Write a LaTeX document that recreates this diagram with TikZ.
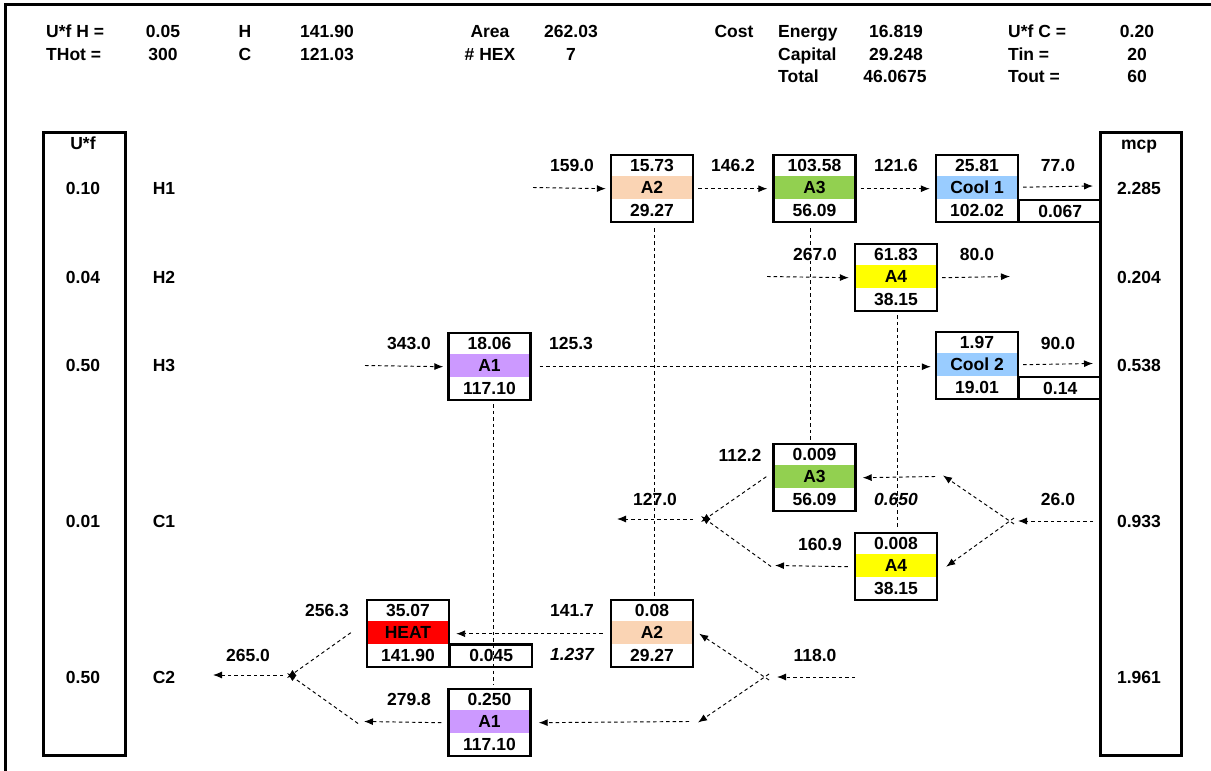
\documentclass[tikz,border=0pt]{standalone}
\usepackage{fontspec}
\setmainfont{Liberation Sans}
\usetikzlibrary{arrows.meta}
\definecolor{peach}{HTML}{FAD4B4}
\definecolor{lgreen}{HTML}{92D050}
\definecolor{lyellow}{HTML}{FFFF00}
\definecolor{lav}{HTML}{CC99FF}
\definecolor{lblue}{HTML}{99CCFF}
\definecolor{hred}{HTML}{FF0000}
\tikzset{
  lbl/.style={inner sep=0pt, text height=12.5pt, text depth=0pt},
  lblw/.style={lbl, anchor=west},
  boxst/.style={draw, line width=2.4pt, minimum width=82pt, inner sep=0pt},
  sidebox/.style={draw, line width=2.6pt, minimum width=82pt, minimum height=623pt, inner sep=0pt, anchor=north west},
  flow/.style={draw=black, line width=0.95pt, dash pattern=on 3.5pt off 3pt, -{Latex[length=9pt,width=7pt]}},
  match/.style={draw=black, line width=0.95pt, dash pattern=on 3.5pt off 3pt},
}
% #1 name, #2 center x, #3 top y, #4 top text, #5 label, #6 bottom text, #7 colour
\newcommand{\hexbox}[7]{%
  \fill[#7] ({#2-41},{#3+22.3}) rectangle ({#2+41},{#3+44.6});
  \node[boxst, minimum height=67pt, anchor=north] (#1) at (#2,#3) {};
  \node[lbl] (#1-t) at (#2,{#3+11.3}) {#4};
  \node[lbl] (#1-m) at (#2,{#3+33.5}) {#5};
  \node[lbl] (#1-b) at (#2,{#3+55.8}) {#6};
}
\begin{document}
\begin{tikzpicture}[x=1pt,y=-1pt,font=\fontsize{17.5pt}{21pt}\selectfont\bfseries]
\useasboundingbox (0,0) rectangle (1211,771);
\fill[white] (0,0) rectangle (1211,771);
% outer frame (left and top edges)
\draw[line width=3pt] (5,771) -- (5,4) -- (1213,4);

% header
\node[lblw] (h1) at (46,31) {U*f H =};
\node[lblw] (h2) at (46,54) {THot =};
\node[lbl] (h3) at (163,31) {0.05};
\node[lbl] (h4) at (163,54) {300};
\node[lbl] (h5) at (245,31) {H};
\node[lbl] (h6) at (245,54) {C};
\node[lbl] (h7) at (327,31) {141.90};
\node[lbl] (h8) at (327,54) {121.03};
\node[lbl] (h9) at (490,31) {Area};
\node[lbl] (h10) at (490,54) {\# HEX};
\node[lbl] (h11) at (571,31) {262.03};
\node[lbl] (h12) at (571,54) {7};
\node[lbl] (h13) at (734,31) {Cost};
\node[lblw] (h14) at (778,31) {Energy};
\node[lblw] (h15) at (778,54) {Capital};
\node[lblw] (h16) at (778,76) {Total};
\node[lbl] (h17) at (896,31) {16.819};
\node[lbl] (h18) at (896,54) {29.248};
\node[lbl] (h19) at (895,76) {46.0675};
\node[lblw] (h20) at (1008,31) {U*f C =};
\node[lblw] (h21) at (1008,54) {Tin =};
\node[lblw] (h22) at (1008,76) {Tout =};
\node[lbl] (h23) at (1137,31) {0.20};
\node[lbl] (h24) at (1137,54) {20};
\node[lbl] (h25) at (1137,76) {60};

% side boxes
\node[sidebox] (ufbox) at (42,131) {};
\node[lbl] (uf) at (83,143) {U*f};
\node[lbl] (uf1) at (83,188) {0.10};
\node[lbl] (uf2) at (83,277) {0.04};
\node[lbl] (uf3) at (83,365) {0.50};
\node[lbl] (uf4) at (83,521) {0.01};
\node[lbl] (uf5) at (83,677) {0.50};
\node[lbl] (sH1) at (164,188) {H1};
\node[lbl] (sH2) at (164,277) {H2};
\node[lbl] (sH3) at (164,365) {H3};
\node[lbl] (sC1) at (164,521) {C1};
\node[lbl] (sC2) at (164,677) {C2};

\node[sidebox, minimum width=81pt] (mcpbox) at (1099,131) {};
\node[lbl] (mcp) at (1139,143) {mcp};
\node[lbl] (m1) at (1139,188) {2.285};
\node[lbl] (m2) at (1139,277) {0.204};
\node[lbl] (m3) at (1139,365) {0.538};
\node[lbl] (m4) at (1139,521) {0.933};
\node[lbl] (m5) at (1139,677) {1.961};

% exchangers
\hexbox{a2t}{652}{154}{15.73}{A2}{29.27}{peach}
\hexbox{a3t}{814.5}{154}{103.58}{A3}{56.09}{lgreen}
\hexbox{cool1}{977}{154}{25.81}{Cool 1}{102.02}{lblue}
\hexbox{a4t}{896}{243}{61.83}{A4}{38.15}{lyellow}
\hexbox{a1t}{489.5}{332}{18.06}{A1}{117.10}{lav}
\hexbox{cool2}{977}{331}{1.97}{Cool 2}{19.01}{lblue}
\hexbox{a3b}{814.5}{443}{0.009}{A3}{56.09}{lgreen}
\hexbox{a4b}{896}{532}{0.008}{A4}{38.15}{lyellow}
\hexbox{heat}{408}{599}{35.07}{HEAT}{141.90}{hred}
\hexbox{a2b}{652}{599}{0.08}{A2}{29.27}{peach}
\hexbox{a1b}{489.5}{688}{0.250}{A1}{117.10}{lav}

\node[boxst, minimum height=22.3pt, anchor=north west] (c1x) at (1018,198.7) {};
\node[lbl] (c1xt) at (c1x.center) {0.067};
\node[boxst, minimum height=22.3pt, anchor=north west] (c2x) at (1018,375.7) {};
\node[lbl] (c2xt) at (c2x.center) {0.14};
\node[boxst, minimum height=22.3pt, anchor=north west] (hx) at (449,643.3) {};
\node[lbl] (hxt) at (hx.center) {0.045};

% match lines
\draw[match] ([xshift=2pt,yshift=-5pt]a2t.south) -- ([xshift=2pt,yshift=3pt]a2b.north);
\draw[match] ([xshift=-4pt,yshift=-5pt]a3t.south) -- ([xshift=-4pt,yshift=3pt]a3b.north);
\draw[match] ([xshift=1pt,yshift=-3pt]a4t.south) -- ([xshift=1pt,yshift=3pt]a4b.north);
\draw[match] ([xshift=3.5pt,yshift=-3pt]a1t.south) -- ([xshift=3.5pt,yshift=3pt]a1b.north);

% H1
\coordinate (h1in) at (533,187.5);
\coordinate (h1out) at (1093,186);
\draw[flow] (h1in) -- ([xshift=-4pt]a2t.west);
\draw[flow] ([xshift=4pt]a2t.east) -- ([xshift=-5pt]a3t.west);
\draw[flow] ([xshift=4pt]a3t.east) -- ([xshift=-5pt]cool1.west);
\draw[flow] ([xshift=4pt,yshift=1.5pt]cool1.east) -- (h1out);
\node[lbl] (l1) at (572,165) {159.0};
\node[lbl] (l2) at (733,165) {146.2};
\node[lbl] (l3) at (896,165) {121.6};
\node[lbl] (l4) at (1058,165) {77.0};

% H2
\coordinate (h2in) at (767,276.5);
\coordinate (h2out) at (1010,276.5);
\draw[flow] (h2in) -- ([xshift=-5pt]a4t.west);
\draw[flow] ([xshift=4pt]a4t.east) -- (h2out);
\node[lbl] (l5) at (815,254) {267.0};
\node[lbl] (l6) at (977,254) {80.0};

% H3
\coordinate (h3in) at (365,365.5);
\coordinate (h3out) at (1093,363.5);
\draw[flow] (h3in) -- ([xshift=-4pt]a1t.west);
\draw[flow] ([xshift=8pt]a1t.east) -- ([xshift=-4pt]a1t.east -| cool2.west);
\draw[flow] ([xshift=4pt,yshift=1pt]cool2.east) -- (h3out);
\node[lbl] (l7) at (409,343) {343.0};
\node[lbl] (l8) at (571,343) {125.3};
\node[lbl] (l9) at (1058,343) {90.0};

% C1
\coordinate (c1in) at (1093,521);
\coordinate (c1split) at (1018,521);
\coordinate (c1up) at (940,476.5);
\coordinate (c1mix) at (697,519);
\coordinate (c1lo) at (775,565.5);
\coordinate (c1out) at (617,519);
\draw[flow] (c1in) -- (c1split);
\draw[flow] ([xshift=-4pt,yshift=-3pt]c1split) -- ([xshift=3pt,yshift=1pt]c1up);
\draw[flow] ([xshift=-5pt]c1up) -- ([xshift=6pt]a3b.east);
\draw[flow] ([xshift=-4pt,yshift=3pt]c1split) -- ([xshift=8pt]a4b.east);
\draw[flow] ([xshift=-6pt,yshift=1pt]a3b.west) -- ([xshift=4pt,yshift=-3pt]c1mix);
\draw[flow] ([xshift=-6pt]a4b.west) -- (c1lo);
\draw[flow] ([xshift=-4pt,yshift=-1pt]c1lo) -- ([xshift=4pt,yshift=3pt]c1mix);
\draw[flow] ([xshift=-4pt]c1mix) -- (c1out);
\node[lbl] (l10) at (740,455) {112.2};
\node[lbl] (l11) at (655,499) {127.0};
\node[lbl] (l12) at (820,544) {160.9};
\node[lbl,font=\fontsize{17.5pt}{21pt}\selectfont\bfseries\itshape] (l13) at (896,499) {0.650};
\node[lbl] (l14) at (1058,499) {26.0};

% C2
\coordinate (c2in) at (855,677);
\coordinate (c2split) at (772,677);
\coordinate (c2lo) at (694,721.5);
\coordinate (c2a1) at (364,721.5);
\coordinate (c2mix) at (285,675);
\coordinate (c2out) at (213,675);
\draw[flow] (c2in) -- ([xshift=5pt]c2split);
\draw[flow] ([xshift=-3pt,yshift=-3pt]c2split) -- ([xshift=5pt]a2b.east);
\draw[flow] ([xshift=-3pt,yshift=3pt]c2split) -- ([xshift=4pt,yshift=-1pt]c2lo);
\draw[flow] ([xshift=-5pt]c2lo) -- ([xshift=7pt]a1b.east);
\draw[flow] ([xshift=-6pt]a1b.west) -- (c2a1);
\draw[flow] ([xshift=-6pt,yshift=-2pt]c2a1) -- ([xshift=2pt,yshift=2pt]c2mix);
\draw[flow] ([xshift=-7pt]a2b.west) -- ([xshift=6pt]heat.east);
\draw[flow] ([xshift=-15pt,yshift=1pt]heat.west) -- ([xshift=2pt,yshift=-3pt]c2mix);
\draw[flow] ([xshift=-2pt]c2mix) -- (c2out);
\node[lbl] (l15) at (815,655) {118.0};
\node[lbl] (l16) at (572,610) {141.7};
\node[lbl,font=\fontsize{17.5pt}{21pt}\selectfont\bfseries\itshape] (l17) at (572,654) {1.237};
\node[lbl] (l18) at (327,610) {256.3};
\node[lbl] (l19) at (248,655) {265.0};
\node[lbl] (l20) at (409,699) {279.8};
\end{tikzpicture}
\end{document}
